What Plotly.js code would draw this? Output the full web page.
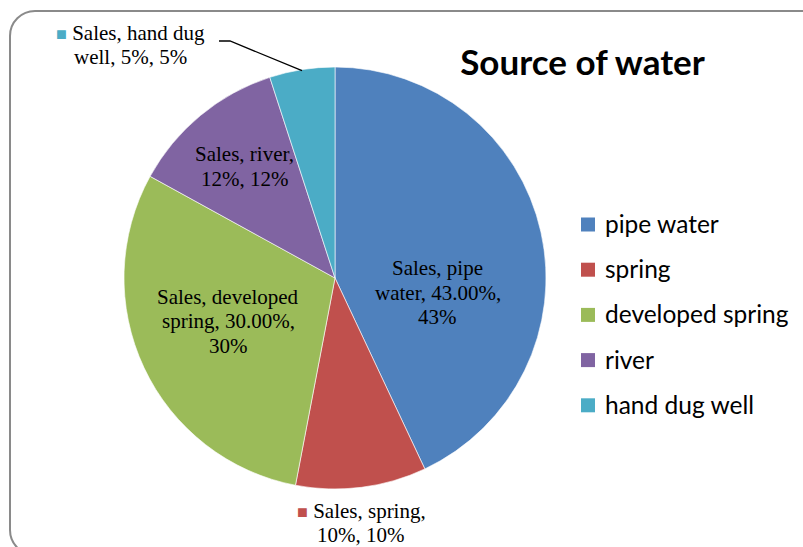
<!DOCTYPE html>
<html><head><meta charset="utf-8">
<script src="https://cdn.plot.ly/plotly-3.0.1.min.js"></script>
<style>
html,body{margin:0;padding:0;background:#fff;}
#wrap{position:relative;width:803px;height:547px;overflow:hidden;}
#chart{width:803px;height:547px;}
#frame{position:absolute;left:9px;top:10px;width:818px;height:546px;border:2px solid #8a8a8a;border-radius:26px;pointer-events:none;box-sizing:border-box;}
</style></head><body>
<div id="wrap"><div id="chart"></div><div id="frame"></div></div>
<script>
// ---- data ----
const seriesName = 'Sales';
const categories = ['pipe water', 'spring', 'developed spring', 'river', 'hand dug well'];
const values = [43, 10, 30, 12, 5];
const percentLabels = ['43.00%', '10%', '30.00%', '12%', '5%'];
const valueLabels = ['43%', '10%', '30%', '12%', '5%'];
const chartTitle = 'Source of water';

// ---- styles / layout config ----
const colors = ['#4F81BD', '#C0504D', '#9BBB59', '#8064A2', '#4BACC6'];
const W = 803, H = 547;
const pieCx = 335, pieCy = 278, pieR = 211;
const labelWordsPerLine = [[2, 2, 1], [2, 2], [2, 2, 1], [2, 2], [3, 3]];
const labelCenters = [[438, 292.5], [361, 523], [228, 321], [244.5, 166.5], [130, 45]];
const labelHasKey = [false, true, false, false, true];
const lineGap = 24.5;
const labelFont = {family: 'Liberation Serif, Times New Roman, serif', size: 21, color: '#000'};
const legendFont = {family: 'Lato, Calibri, sans-serif', size: 24.5, color: '#000'};

const px = v => v / W;
const py = v => 1 - v / H;

const annotations = [];
const shapes = [];

// data labels
categories.forEach((cat, i) => {
  const full = `${seriesName}, ${cat}, ${percentLabels[i]}, ${valueLabels[i]}`;
  const words = full.split(' ');
  const lines = [];
  let k = 0;
  labelWordsPerLine[i].forEach(n => { lines.push(words.slice(k, k + n).join(' ')); k += n; });
  const [cx, cy] = labelCenters[i];
  lines.forEach((ln, j) => {
    let txt = ln;
    if (j === 0 && labelHasKey[i]) {
      txt = `<span style="color:${colors[i]};font-size:18px">■</span> ` + ln;
    }
    annotations.push({
      xref: 'paper', yref: 'paper', showarrow: false,
      x: px(cx), y: py(cy + (j - (lines.length - 1) / 2) * lineGap),
      xanchor: 'center', yanchor: 'middle',
      text: txt, font: labelFont
    });
  });
});

// leader line for the smallest slice (hand dug well)
(function () {
  const total = values.reduce((a, b) => a + b, 0);
  const idx = categories.length - 1;
  const before = values.slice(0, idx).reduce((a, b) => a + b, 0);
  const mid = (before + values[idx] / 2) / total * 2 * Math.PI;
  const ex = pieCx + pieR * Math.sin(mid);
  const ey = pieCy - pieR * Math.cos(mid);
  shapes.push({
    type: 'path', xref: 'paper', yref: 'paper',
    path: `M ${px(219)},${py(41)} L ${px(230)},${py(41)} L ${px(ex)},${py(ey + 1)}`,
    line: {color: '#000', width: 1.3}
  });
})();

// custom legend
const legendX = 581, legendTextX = 603, legendY0 = 224.5, legendGap = 45.2;
categories.forEach((cat, i) => {
  const yc = legendY0 + i * legendGap;
  shapes.push({
    type: 'rect', xref: 'paper', yref: 'paper',
    x0: px(legendX), x1: px(legendX + 14), y0: py(yc - 7), y1: py(yc + 7),
    fillcolor: colors[i], line: {width: 0}
  });
  annotations.push({
    xref: 'paper', yref: 'paper', showarrow: false,
    x: px(legendTextX), y: py(yc - 1), xanchor: 'left', yanchor: 'middle',
    text: cat, font: legendFont
  });
});

const trace = {
  type: 'pie',
  labels: categories,
  values: values,
  sort: false,
  direction: 'clockwise',
  rotation: 0,
  textinfo: 'none',
  hoverinfo: 'skip',
  showlegend: false,
  marker: {colors: colors, line: {color: 'rgba(255,255,255,0.6)', width: 1}},
  domain: {x: [px(pieCx - pieR), px(pieCx + pieR)], y: [py(pieCy + pieR), py(pieCy - pieR)]}
};

const layout = {
  width: W, height: H,
  margin: {l: 0, r: 0, t: 0, b: 0},
  paper_bgcolor: '#fff',
  showlegend: false,
  title: {
    text: '<b>' + chartTitle + '</b>',
    x: px(582.5), xref: 'paper', xanchor: 'center',
    y: py(63), yref: 'container', yanchor: 'middle',
    font: {family: 'Lato, Calibri, sans-serif', size: 35, color: '#000'}
  },
  annotations: annotations,
  shapes: shapes
};

Plotly.newPlot('chart', [trace], layout, {staticPlot: true, displayModeBar: false});
</script>
</body></html>
